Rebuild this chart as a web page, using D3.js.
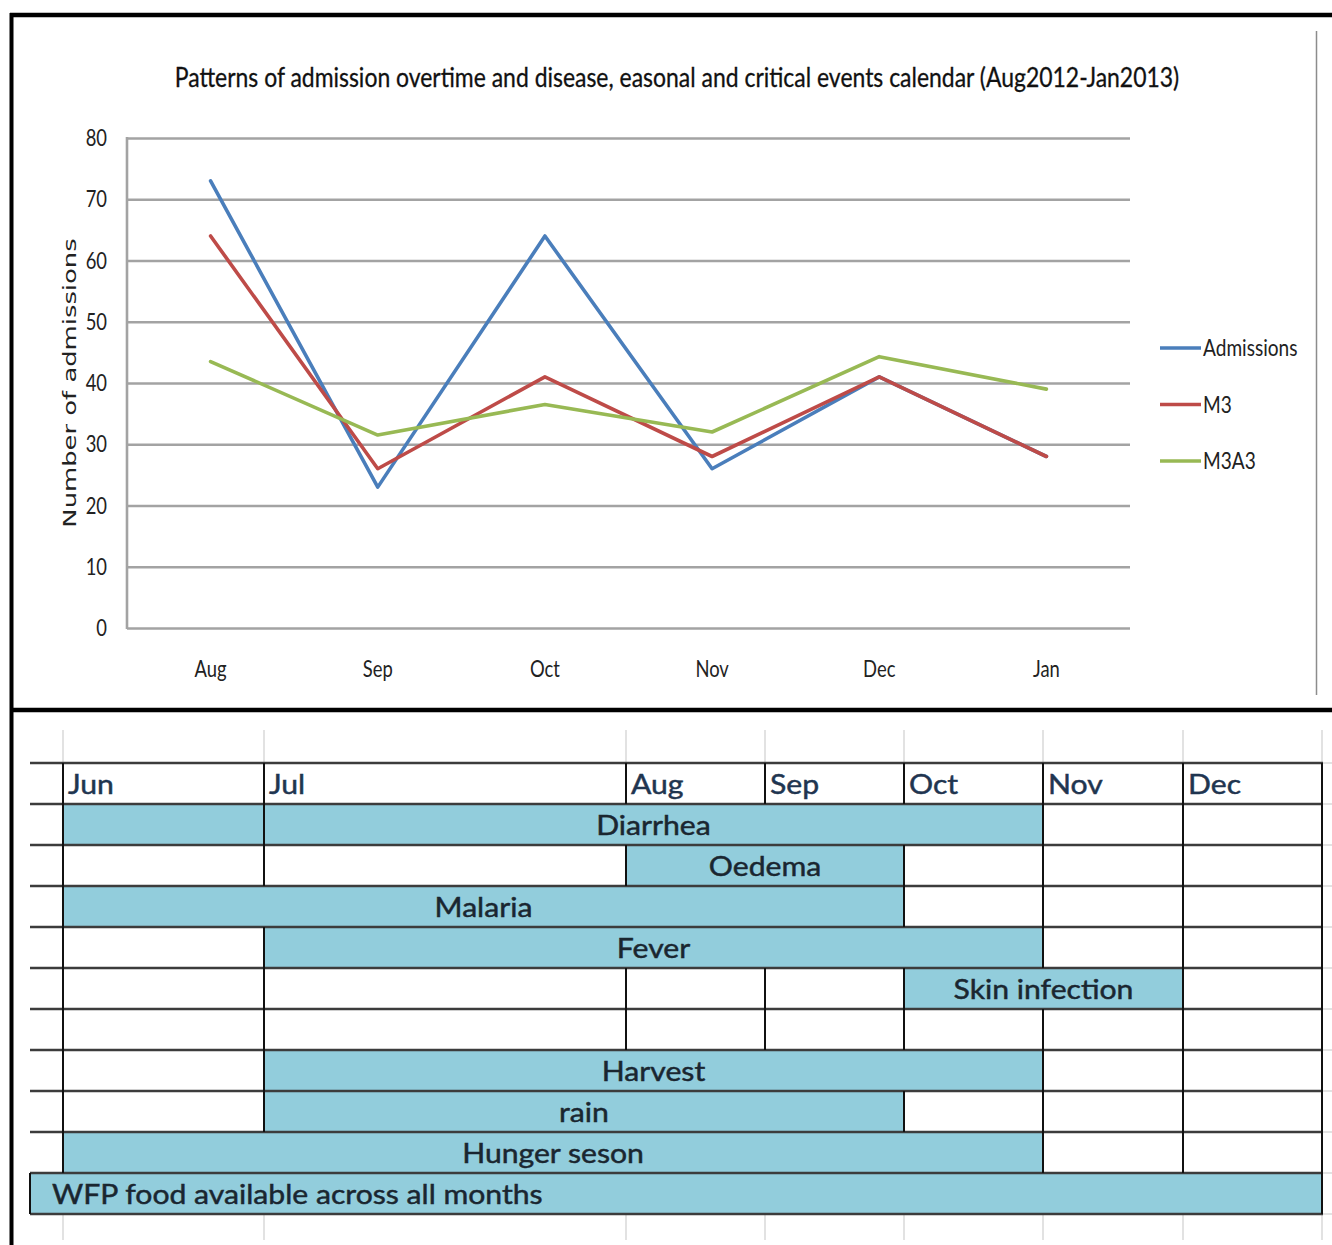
<!DOCTYPE html>
<html>
<head>
<meta charset="utf-8">
<script src="https://cdn.jsdelivr.net/npm/d3@7"></script>
<style>
  html, body { margin: 0; padding: 0; background: #fff; }
  svg { display: block; }
</style>
</head>
<body>
<svg id="figure" width="1332" height="1245"></svg>
<script>
// ---- Admissions chart data (Aug 2012 - Jan 2013) ----
const months = ["Aug", "Sep", "Oct", "Nov", "Dec", "Jan"];
const admissions = [73, 23, 64, 26, 41, 28];
const m3 = [64, 26, 41, 28, 41, 28];
const m3a3 = [43.5, 31.5, 36.5, 32, 44.3, 39];
const seriesNames = ["Admissions", "M3", "M3A3"];
const yTicks = [0, 10, 20, 30, 40, 50, 60, 70, 80];
const chartTitle = "Patterns of admission overtime and disease, easonal and critical events calendar (Aug2012-Jan2013)";
const yAxisTitle = "Number of admissions";

// ---- Seasonal / critical events calendar ----
const calendarMonths = ["Jun", "Jul", "Aug", "Sep", "Oct", "Nov", "Dec"];
// each cell: [first month index, last month index, filled, label]
// index -1 is the narrow unlabelled column before June
const calendarRows = [
  [[0, 0, 1], [1, 4, 1, "Diarrhea"], [5, 5, 0], [6, 6, 0]],
  [[0, 0, 0], [1, 1, 0], [2, 3, 1, "Oedema"], [4, 4, 0], [5, 5, 0], [6, 6, 0]],
  [[0, 3, 1, "Malaria"], [4, 4, 0], [5, 5, 0], [6, 6, 0]],
  [[0, 0, 0], [1, 4, 1, "Fever"], [5, 5, 0], [6, 6, 0]],
  [[0, 0, 0], [1, 1, 0], [2, 2, 0], [3, 3, 0], [4, 5, 1, "Skin infection"], [6, 6, 0]],
  [[0, 0, 0], [1, 1, 0], [2, 2, 0], [3, 3, 0], [4, 4, 0], [5, 5, 0], [6, 6, 0]],
  [[0, 0, 0], [1, 4, 1, "Harvest"], [5, 5, 0], [6, 6, 0]],
  [[0, 0, 0], [1, 3, 1, "rain"], [4, 4, 0], [5, 5, 0], [6, 6, 0]],
  [[0, 4, 1, "Hunger seson"], [5, 5, 0], [6, 6, 0]],
  [[-1, 6, 1, "WFP food available across all months"]]
];

// ---- layout ----
const W = 1332, H = 1245;
const plot = { left: 127, right: 1130, top: 138, bottom: 628 };
const colEdges = [30, 63, 264, 626, 765, 904, 1043, 1183, 1322];
const tableTop = 763, rowH = 41;
const colors = { Admissions: "#4a7ebb", M3: "#be4b48", M3A3: "#98b954" };
const chartFont = "Lato, 'Noto Sans', sans-serif";

const svg = d3.select("#figure");

// place a text at (x, y) with its lettering scaled horizontally by k
function placeText(sel, px, py, k, rot) {
  return sel.attr("x", 0).attr("y", 0)
    .attr("transform", `translate(${px},${py})${rot ? ` rotate(${rot})` : ""} scale(${k},1)`);
}

// ================= line chart =================
const x = d3.scalePoint().domain(months).range([plot.left, plot.right]).padding(0.5);
const y = d3.scaleLinear().domain([0, 80]).range([plot.bottom, plot.top]);

// horizontal gridlines
svg.append("g")
  .attr("transform", `translate(${plot.left},0)`)
  .call(d3.axisLeft(y).tickValues(yTicks).tickSize(-(plot.right - plot.left)).tickFormat(""))
  .call(g => g.select(".domain").remove())
  .call(g => g.selectAll(".tick line").attr("stroke", "#a3a3a3").attr("stroke-width", 2.6));

// y axis line
svg.append("line")
  .attr("x1", plot.left).attr("x2", plot.left)
  .attr("y1", y(80) - 1).attr("y2", y(0) + 1)
  .attr("stroke", "#a3a3a3").attr("stroke-width", 2.6);

// y tick labels
svg.append("g").selectAll("text").data(yTicks).join("text")
  .each(function (d) { placeText(d3.select(this), 107, y(d), 0.8); })
  .attr("dy", "0.35em")
  .attr("text-anchor", "end")
  .attr("font-family", chartFont).attr("font-size", 23)
  .attr("fill", "#222")
  .text(d => d);

// x labels
svg.append("g").selectAll("text").data(months).join("text")
  .each(function (d) { placeText(d3.select(this), x(d), 677, 0.8); })
  .attr("text-anchor", "middle")
  .attr("font-family", chartFont).attr("font-size", 23)
  .attr("fill", "#222")
  .text(d => d);

// series lines
const series = [
  { name: seriesNames[0], values: admissions },
  { name: seriesNames[1], values: m3 },
  { name: seriesNames[2], values: m3a3 }
];
const line = d3.line().x((d, i) => x(months[i])).y(d => y(d));
svg.append("g").selectAll("path").data(series).join("path")
  .attr("d", d => line(d.values))
  .attr("fill", "none")
  .attr("stroke", d => colors[d.name])
  .attr("stroke-width", 3.6)
  .attr("stroke-linejoin", "round")
  .attr("stroke-linecap", "round");

// legend
const legendY = d3.scalePoint().domain(seriesNames).range([348, 461]);
const leg = svg.append("g").selectAll("g").data(seriesNames).join("g")
  .attr("transform", d => `translate(0,${legendY(d)})`);
leg.append("line")
  .attr("x1", 1160).attr("x2", 1201)
  .attr("stroke", d => colors[d]).attr("stroke-width", 3.6);
leg.append("text")
  .each(function () { placeText(d3.select(this), 1203, 0, 0.83); })
  .attr("dy", "0.35em")
  .attr("font-family", chartFont).attr("font-size", 23)
  .attr("fill", "#222")
  .text(d => d);

// title
placeText(svg.append("text"), 677, 87, 0.85)
  .attr("text-anchor", "middle")
  .attr("font-family", chartFont).attr("font-size", 27)
  .attr("fill", "#111").attr("stroke", "#111").attr("stroke-width", 0.3)
  .text(chartTitle);

// y axis title
placeText(svg.append("text"), 76, 383, 1.52, -90)
  .attr("text-anchor", "middle")
  .attr("font-family", "'DejaVu Sans', Verdana, sans-serif").attr("font-size", 17)
  .attr("fill", "#222")
  .text(yAxisTitle);

// chart area right border
svg.append("line")
  .attr("x1", 1316.5).attr("x2", 1316.5).attr("y1", 31).attr("y2", 695)
  .attr("stroke", "#8c8c8c").attr("stroke-width", 1.5);

// ================= events calendar =================
const cx = d3.scaleLinear().domain(d3.range(-1, 8)).range(colEdges);
const ry = i => tableTop + i * rowH;          // row 0 is the month header
const nRows = calendarRows.length + 1;
const tableFont = "Lato, 'Open Sans', sans-serif";

// faint spreadsheet gridlines above and below the table
const faint = svg.append("g").attr("stroke", "#d8d8d8").attr("stroke-width", 1.5);
colEdges.slice(1).forEach(e => {
  faint.append("line").attr("x1", e).attr("x2", e).attr("y1", 730).attr("y2", tableTop);
  faint.append("line").attr("x1", e).attr("x2", e).attr("y1", ry(nRows)).attr("y2", 1240);
});
d3.range(nRows + 1).forEach(i => {
  faint.append("line").attr("x1", 1322).attr("x2", W).attr("y1", ry(i)).attr("y2", ry(i));
});

// cells
const rowsG = svg.append("g");
const allRows = [calendarMonths.map((m, i) => [i, i, 0, m, "header"])].concat(calendarRows);
allRows.forEach((cells, r) => {
  rowsG.append("g").selectAll("rect").data(cells).join("rect")
    .attr("x", d => cx(d[0]))
    .attr("y", ry(r))
    .attr("width", d => cx(d[1] + 1) - cx(d[0]))
    .attr("height", rowH)
    .attr("fill", d => d[2] ? "#92cddc" : "#fff");
});

// horizontal row lines
const hLines = svg.append("g").attr("stroke", "#3c3c3c").attr("stroke-width", 2.6);
d3.range(nRows + 1).forEach(i => {
  hLines.append("line").attr("x1", colEdges[0]).attr("x2", 1323).attr("y1", ry(i)).attr("y2", ry(i));
});

// vertical cell borders
const vLines = svg.append("g").attr("stroke", "#111").attr("stroke-width", 2);
allRows.forEach((cells, r) => {
  cells.forEach(c => {
    [c[0], c[1] + 1].forEach(e => {
      if (e === -1 && c[0] !== -1) return;
      vLines.append("line").attr("x1", cx(e)).attr("x2", cx(e))
        .attr("y1", ry(r)).attr("y2", ry(r + 1));
    });
  });
});

// header and event labels
const labels = svg.append("g");
allRows.forEach((cells, r) => {
  cells.filter(c => c[3]).forEach(c => {
    const isHeader = c[4] === "header";
    const leftAligned = isHeader || c[0] === -1;
    const px = leftAligned ? cx(c[0]) + (isHeader ? 5 : 22) : (cx(c[0]) + cx(c[1] + 1)) / 2;
    placeText(labels.append("text"), px, ry(r) + rowH / 2 + 10, 1.16)
      .attr("text-anchor", leftAligned ? "start" : "middle")
      .attr("font-family", tableFont).attr("font-size", 26)
      .attr("fill", isHeader ? "#1f3550" : "#1a2630")
      .attr("stroke", isHeader ? "#1f3550" : "#1a2630").attr("stroke-width", 0.45)
      .text(c[3]);
  });
});

// outer frame and divider
const frame = svg.append("g").attr("stroke", "#000");
frame.append("line").attr("x1", 11.5).attr("x2", 11.5).attr("y1", 13).attr("y2", H).attr("stroke-width", 4);
frame.append("line").attr("x1", 10).attr("x2", W).attr("y1", 15).attr("y2", 15).attr("stroke-width", 4.5);
frame.append("line").attr("x1", 10).attr("x2", W).attr("y1", 710).attr("y2", 710).attr("stroke-width", 4.5);
</script>
</body>
</html>
